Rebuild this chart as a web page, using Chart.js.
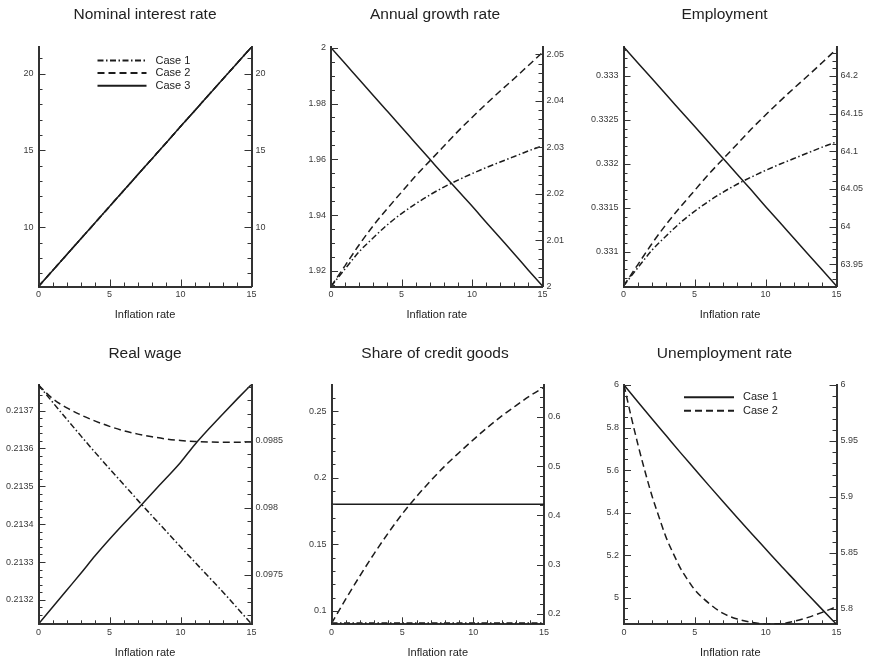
<!DOCTYPE html>
<html>
<head>
<meta charset="utf-8">
<script src="https://cdn.jsdelivr.net/npm/chart.js@4.4.1/dist/chart.umd.min.js"></script>
<style>
  html, body { margin: 0; padding: 0; background: #fff; }
  #page { position: relative; width: 869px; height: 660px; overflow: hidden; }
  canvas { position: absolute; }
</style>
</head>
<body>
<div id="page">
  <canvas id="c1"></canvas>
  <canvas id="c2"></canvas>
  <canvas id="c3"></canvas>
  <canvas id="c4"></canvas>
  <canvas id="c5"></canvas>
  <canvas id="c6"></canvas>
</div>
<script>
// ---- data ---------------------------------------------------------------
const inflation = [0, 1, 2, 3, 4, 5, 6, 7, 8, 9, 10, 11, 12, 13, 14, 15];
const inflationFine = [0, 0.5, 1, 1.5, 2, 2.5, 3, 3.5, 4, 4.5, 5, 6, 7, 8, 9, 10, 11, 12, 13, 14, 15];

// Nominal interest rate (all three cases coincide)
const nominalCase1 = [6.14, 7.18, 8.22, 9.26, 10.30, 11.34, 12.38, 13.42, 14.46, 15.50, 16.55, 17.58, 18.62, 19.66, 20.69, 21.72];
const nominalCase2 = [6.14, 7.18, 8.22, 9.26, 10.30, 11.34, 12.38, 13.42, 14.46, 15.50, 16.55, 17.58, 18.62, 19.66, 20.69, 21.72];
const nominalCase3 = [6.14, 7.18, 8.22, 9.26, 10.30, 11.34, 12.38, 13.42, 14.46, 15.50, 16.55, 17.58, 18.62, 19.66, 20.69, 21.72];

// Annual growth rate (cases 1, 2 on the right axis, case 3 on the left)
const growthCase1 = [2.0000, 2.0038, 2.0075, 2.0105, 2.0133, 2.0157, 2.0178, 2.0197, 2.0214, 2.0229, 2.0243, 2.0256, 2.0268, 2.0280, 2.0292, 2.0303];
const growthCase2 = [2.0000, 2.0045, 2.0090, 2.0131, 2.0168, 2.0203, 2.0238, 2.0270, 2.0302, 2.0334, 2.0364, 2.0393, 2.0421, 2.0448, 2.0476, 2.0504];
const growthCase3 = [2.0000, 1.9943, 1.9886, 1.9829, 1.9772, 1.9715, 1.9658, 1.9601, 1.9544, 1.9488, 1.9433, 1.9375, 1.9318, 1.9261, 1.9203, 1.9146];

// Employment
const employmentCase1 = [63.9212, 63.9452, 63.9686, 63.9875, 64.0052, 64.0203, 64.0336, 64.0456, 64.0563, 64.0658, 64.0746, 64.0828, 64.0904, 64.0980, 64.1056, 64.1125];
const employmentCase2 = [63.9212, 63.9493, 63.9773, 64.0029, 64.0260, 64.0478, 64.0696, 64.0896, 64.1095, 64.1295, 64.1482, 64.1663, 64.1837, 64.2006, 64.2180, 64.2355];
const employmentCase3 = [0.333333, 0.333152, 0.332971, 0.332789, 0.332608, 0.332427, 0.332245, 0.332064, 0.331883, 0.331701, 0.331515, 0.331334, 0.331153, 0.330972, 0.330791, 0.330610];

// Real wage
const wageCase1 = [0.098914, 0.098785, 0.098658, 0.098533, 0.098410, 0.098290, 0.098172, 0.098054, 0.097938, 0.097823, 0.097708, 0.097595, 0.097482, 0.097369, 0.097251, 0.097133];
const wageCase2 = [0.098914, 0.098812, 0.098744, 0.098690, 0.098645, 0.098606, 0.098573, 0.098548, 0.098528, 0.098512, 0.098501, 0.098493, 0.098489, 0.098487, 0.098487, 0.098490];
const wageCase3 = [0.213136, 0.213181, 0.213226, 0.213271, 0.213317, 0.213360, 0.213401, 0.213441, 0.213482, 0.213522, 0.213563, 0.213610, 0.213652, 0.213692, 0.213731, 0.213769];

// Share of credit goods
const creditCase1 = [0.091, 0.091, 0.091, 0.091, 0.091, 0.091, 0.091, 0.091, 0.091, 0.091, 0.091, 0.091, 0.091, 0.091, 0.091, 0.091];
const creditCase2 = [0.181, 0.230, 0.277, 0.322, 0.364, 0.403, 0.438, 0.470, 0.500, 0.527, 0.553, 0.578, 0.601, 0.622, 0.642, 0.660];
const creditCase3 = [0.18, 0.18, 0.18, 0.18, 0.18, 0.18, 0.18, 0.18, 0.18, 0.18, 0.18, 0.18, 0.18, 0.18, 0.18, 0.18];

// Unemployment rate
const unemploymentCase1 = [6.000, 5.919, 5.839, 5.760, 5.681, 5.604, 5.527, 5.451, 5.376, 5.302, 5.229, 5.156, 5.085, 5.014, 4.944, 4.875];
const unemploymentCase2 = [6.000, 5.972, 5.946, 5.922, 5.900, 5.881, 5.863, 5.849, 5.836, 5.826, 5.817, 5.805, 5.796, 5.791, 5.788, 5.7866, 5.7868, 5.789, 5.7925, 5.797, 5.802];

// ---- tick labels ----------------------------------------------------------
const xTicks = [0, 5, 10, 15];
const nominalTicks = [10, 15, 20];
const growthLeftTicks = [1.92, 1.94, 1.96, 1.98, 2];
const growthRightTicks = [2, 2.01, 2.02, 2.03, 2.04, 2.05];
const employmentLeftTicks = [0.331, 0.3315, 0.332, 0.3325, 0.333];
const employmentRightTicks = [63.95, 64, 64.05, 64.1, 64.15, 64.2];
const wageLeftTicks = [0.2132, 0.2133, 0.2134, 0.2135, 0.2136, 0.2137];
const wageRightTicks = [0.0975, 0.098, 0.0985];
const creditLeftTicks = [0.1, 0.15, 0.2, 0.25];
const creditRightTicks = [0.2, 0.3, 0.4, 0.5, 0.6];
const unemploymentLeftTicks = [5, 5.2, 5.4, 5.6, 5.8, 6];
const unemploymentRightTicks = [5.8, 5.85, 5.9, 5.95, 6];

// ---- styling ------------------------------------------------------------
const FONT = "'Liberation Sans', Arial, Helvetica, sans-serif";
Chart.defaults.font.family = FONT;
const INK = '#1c1c1c';
const AXIS = '#333333';
const LABEL = '#3a3a3a';
const STYLE = {
  solid:   { borderDash: [] },
  dashed:  { borderDash: [7, 4] },
  dashdot: { borderDash: [6, 2.5, 1.5, 2.5] }
};
const XAXIS_H = 35.5;

function zip(xs, ys) { return ys.map((y, i) => ({ x: xs[i], y })); }

function series(label, xs, ys, style, axis) {
  return {
    label, data: zip(xs, ys), yAxisID: axis,
    borderColor: INK, borderWidth: 1.5, borderDash: STYLE[style].borderDash,
    pointRadius: 0, fill: false, cubicInterpolationMode: 'monotone'
  };
}

// inward major/minor tick marks on the three drawn sides of the frame
const frameTicks = {
  id: 'frameTicks',
  afterDraw(chart, args, opts) {
    const { ctx, chartArea: a } = chart;
    ctx.save();
    ctx.strokeStyle = AXIS;
    ctx.lineWidth = 1;
    ['x', 'y', 'y2'].forEach(id => {
      const s = chart.scales[id];
      const step = opts[id];
      const majors = s.ticks.map(t => t.value);
      const marks = majors.map(v => [v, 7]);
      const first = Math.ceil(s.min / step - 1e-6), last = Math.floor(s.max / step + 1e-6);
      for (let k = first; k <= last; k++) {
        const v = k * step;
        if (!majors.some(m => Math.abs(m - v) < step * 1e-3)) marks.push([v, 4]);
      }
      marks.forEach(([v, len]) => {
        const p = Math.round(s.getPixelForValue(v)) + 0.5;
        ctx.beginPath();
        if (id === 'x') { ctx.moveTo(p, a.bottom); ctx.lineTo(p, a.bottom - len); }
        else if (id === 'y') { ctx.moveTo(a.left, p); ctx.lineTo(a.left + len, p); }
        else { ctx.moveTo(a.right, p); ctx.lineTo(a.right - len, p); }
        ctx.stroke();
      });
    });
    ctx.restore();
  }
};

// line-sample key drawn inside the plot frame
const caseKey = {
  id: 'caseKey',
  afterDraw(chart, args, opts) {
    if (!opts || !opts.show) return;
    const { ctx, chartArea: a } = chart;
    ctx.save();
    ctx.font = '11px ' + FONT;
    ctx.textBaseline = 'middle';
    ctx.textAlign = 'left';
    chart.data.datasets.forEach((ds, i) => {
      const y = a.top + opts.y + i * opts.gap;
      const x0 = a.left + opts.x;
      ctx.beginPath();
      ctx.setLineDash(ds.borderDash || []);
      ctx.lineWidth = 2;
      ctx.strokeStyle = INK;
      ctx.moveTo(x0, y);
      ctx.lineTo(x0 + opts.len, y);
      ctx.stroke();
      ctx.setLineDash([]);
      ctx.fillStyle = '#222';
      ctx.fillText(ds.label, x0 + opts.len + 9, y);
    });
    ctx.restore();
  }
};

function yScale(position, range, ticks, width) {
  return {
    type: 'linear', position, min: range[0], max: range[1],
    afterBuildTicks: s => { s.ticks = ticks.map(v => ({ value: v })); },
    afterFit: s => { s.width = width; },
    ticks: {
      callback: v => String(v), font: { size: 9 }, color: LABEL,
      padding: position === 'left' ? 5 : 4, autoSkip: false, maxRotation: 0
    },
    grid: { display: true, drawOnChartArea: false, drawTicks: false },
    border: { display: true, color: AXIS, width: 2 }
  };
}

function xScale() {
  return {
    type: 'linear', position: 'bottom', min: 0, max: 15,
    afterBuildTicks: s => { s.ticks = xTicks.map(v => ({ value: v })); },
    afterFit: s => { s.height = XAXIS_H; },
    ticks: { callback: v => String(v), font: { size: 9 }, color: LABEL, padding: 3, autoSkip: false, maxRotation: 0 },
    title: { display: true, text: 'Inflation rate', font: { size: 11 }, color: '#222', padding: { top: 0, bottom: 0 } },
    grid: { display: true, drawOnChartArea: false, drawTicks: false },
    border: { display: true, color: AXIS, width: 2 }
  };
}

// cell = canvas box on the page, frame = wanted plot area on the page
function panel(id, cell, frame, titleCenter, cfg) {
  const cv = document.getElementById(id);
  cv.width = cell.w; cv.height = cell.h;
  cv.style.left = cell.x + 'px'; cv.style.top = cell.y + 'px';
  cv.style.width = cell.w + 'px'; cv.style.height = cell.h + 'px';
  const titleSize = 15.5, lh = titleSize * 1.2;
  const padTop = titleCenter - cell.y - lh / 2;
  const padBottom = (frame.T - cell.y) - padTop - lh;
  const leftW = frame.L - cell.x;
  const rightW = cell.x + cell.w - frame.R;
  new Chart(cv, {
    type: 'line',
    data: { datasets: cfg.datasets },
    options: {
      responsive: false, animation: false, devicePixelRatio: 1,
      layout: { padding: { left: 0, right: 0, top: 0, bottom: cell.y + cell.h - frame.B - XAXIS_H } },
      plugins: {
        legend: { display: false },
        tooltip: { enabled: false },
        title: {
          display: true, text: cfg.title, color: '#222',
          font: { size: titleSize, weight: 'normal' },
          padding: { top: padTop, bottom: padBottom }
        },
        frameTicks: cfg.minor,
        caseKey: cfg.key || { show: false }
      },
      scales: {
        x: xScale(),
        y: yScale('left', cfg.left, cfg.leftTicks, leftW),
        y2: yScale('right', cfg.right, cfg.rightTicks, rightW)
      }
    },
    plugins: [frameTicks, caseKey]
  });
}

const row1 = { y: 0, h: 322 }, row2 = { y: 322, h: 338 };
const col = [{ x: 0, w: 290 }, { x: 290, w: 290 }, { x: 580, w: 289 }];

panel('c1', { ...col[0], ...row1 }, { L: 38.5, R: 251.5, T: 47, B: 286.5 }, 15, {
  title: 'Nominal interest rate',
  datasets: [
    series('Case 1', inflation, nominalCase1, 'dashdot', 'y'),
    series('Case 2', inflation, nominalCase2, 'dashed', 'y'),
    series('Case 3', inflation, nominalCase3, 'solid', 'y')
  ],
  left: [6.136, 21.727], leftTicks: nominalTicks,
  right: [6.136, 21.727], rightTicks: nominalTicks,
  minor: { x: 1, y: 1, y2: 1 },
  key: { show: true, x: 59, y: 13.5, gap: 12.6, len: 49 }
});

panel('c2', { ...col[1], ...row1 }, { L: 331, R: 542.5, T: 47, B: 286.5 }, 15, {
  title: 'Annual growth rate',
  datasets: [
    series('Case 1', inflation, growthCase1, 'dashdot', 'y2'),
    series('Case 2', inflation, growthCase2, 'dashed', 'y2'),
    series('Case 3', inflation, growthCase3, 'solid', 'y')
  ],
  left: [1.91445, 2.00025], leftTicks: growthLeftTicks,
  right: [2.0, 2.05157], rightTicks: growthRightTicks,
  minor: { x: 1, y: 0.005, y2: 0.002 }
});

panel('c3', { ...col[2], ...row1 }, { L: 623.5, R: 836.5, T: 47, B: 286.5 }, 15, {
  title: 'Employment',
  datasets: [
    series('Case 1', inflation, employmentCase1, 'dashdot', 'y2'),
    series('Case 2', inflation, employmentCase2, 'dashed', 'y2'),
    series('Case 3', inflation, employmentCase3, 'solid', 'y')
  ],
  left: [0.330604, 0.33333], leftTicks: employmentLeftTicks,
  right: [63.9205, 64.2385], rightTicks: employmentRightTicks,
  minor: { x: 1, y: 0.0001, y2: 0.01 }
});

panel('c4', { ...col[0], ...row2 }, { L: 38.5, R: 251.5, T: 384.5, B: 624.3 }, 353.3, {
  title: 'Real wage',
  datasets: [
    series('Case 1', inflation, wageCase1, 'dashdot', 'y2'),
    series('Case 2', inflation, wageCase2, 'dashed', 'y2'),
    series('Case 3', inflation, wageCase3, 'solid', 'y')
  ],
  left: [0.2131355, 0.213769], leftTicks: wageLeftTicks,
  right: [0.09713, 0.098918], rightTicks: wageRightTicks,
  minor: { x: 1, y: 0.00002, y2: 0.0001 }
});

panel('c5', { ...col[1], ...row2 }, { L: 331.5, R: 544, T: 384.5, B: 624.3 }, 353.3, {
  title: 'Share of credit goods',
  datasets: [
    series('Case 1', inflation, creditCase1, 'dashdot', 'y'),
    series('Case 2', inflation, creditCase2, 'dashed', 'y2'),
    series('Case 3', inflation, creditCase3, 'solid', 'y')
  ],
  left: [0.09, 0.2699], leftTicks: creditLeftTicks,
  right: [0.1791, 0.6653], rightTicks: creditRightTicks,
  minor: { x: 1, y: 0.01, y2: 0.02 }
});

panel('c6', { ...col[2], ...row2 }, { L: 624, R: 836.5, T: 384.5, B: 624.3 }, 353.3, {
  title: 'Unemployment rate',
  datasets: [
    series('Case 1', inflation, unemploymentCase1, 'solid', 'y'),
    series('Case 2', inflationFine, unemploymentCase2, 'dashed', 'y2')
  ],
  left: [4.875, 6.0024], leftTicks: unemploymentLeftTicks,
  right: [5.7863, 6.0004], rightTicks: unemploymentRightTicks,
  minor: { x: 1, y: 0.05, y2: 0.01 },
  key: { show: true, x: 60, y: 12.8, gap: 13.4, len: 50 }
});
</script>
</body>
</html>
